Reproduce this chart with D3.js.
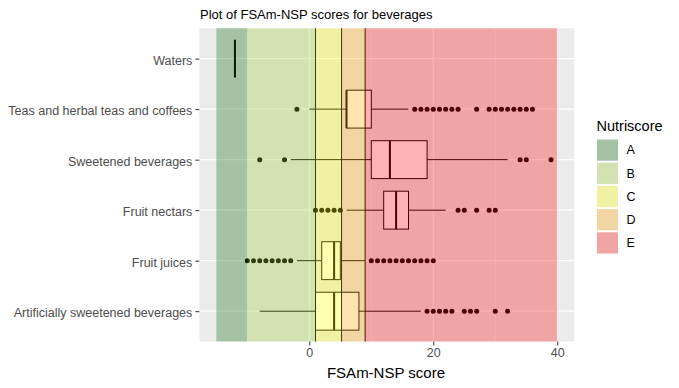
<!DOCTYPE html>
<html>
<head>
<meta charset="utf-8">
<script src="https://cdn.jsdelivr.net/npm/d3@7"></script>
<style>
body { margin: 0; background: #fff; }
text { font-family: "Liberation Sans", Arial, sans-serif; }
</style>
</head>
<body>
<svg id="chart" width="679" height="388"></svg>
<script>
// categories, top to bottom
var categories = ["Waters", "Teas and herbal teas and coffees", "Sweetened beverages",
                  "Fruit nectars", "Fruit juices", "Artificially sweetened beverages"];

// box stats per category: [lower whisker, q1, median, q3, upper whisker]
var boxStats = [
    [-12, -12, -12, -12, -12],
    [0, 6, 6, 10, 16],
    [-3, 10, 13, 19, 32],
    [6, 12, 14, 16, 22],
    [-2, 2, 4, 5, 9],
    [-8, 1, 4, 8, 18]
];

// outliers per category
var outliers = [
    [],
    [-2, 17, 18, 19, 20, 21, 22, 23, 24, 27, 29, 30, 31, 32, 33, 34, 35, 36],
    [-8, -4, 34, 35, 39],
    [1, 2, 3, 4, 5, 24, 25, 27, 29, 30],
    [-10, -9, -8, -7, -6, -5, -4, -3, 10, 11, 12, 13, 14, 15, 16, 17, 18, 19, 20],
    [19, 20, 21, 22, 23, 25, 26, 27, 30, 32]
];

// nutriscore bands
var grades = ["A", "B", "C", "D", "E"];
var bandStart = [-15, -10, 1, 5.2, 9];
var bandEnd = [-10, 1, 5.2, 9, 40];
var gradeColors = ["darkgreen", "yellowgreen", "yellow", "orange", "red"];
var cutLines = [1, 5.2, 9];

var xTicks = [0, 20, 40];
var xMinor = [-10, 10, 30];

var svg = d3.select("#chart");
var panel = {left: 199.3, right: 574.3, top: 28.3, bottom: 341.5};

var x = d3.scaleLinear().domain([-17.75, 42.75]).range([panel.left, panel.right]);
var y = d3.scalePoint().domain(categories).range([panel.top, panel.bottom]).padding(0.6);
var boxH = y.step() * 0.75;

svg.append("rect")
    .attr("x", panel.left).attr("y", panel.top)
    .attr("width", panel.right - panel.left).attr("height", panel.bottom - panel.top)
    .attr("fill", "#EBEBEB");

// grid
svg.selectAll(".minor").data(xMinor).enter().append("line")
    .attr("x1", d => x(d)).attr("x2", d => x(d))
    .attr("y1", panel.top).attr("y2", panel.bottom)
    .attr("stroke", "#fff").attr("stroke-width", 0.6);
svg.selectAll(".major").data(xTicks).enter().append("line")
    .attr("x1", d => x(d)).attr("x2", d => x(d))
    .attr("y1", panel.top).attr("y2", panel.bottom)
    .attr("stroke", "#fff").attr("stroke-width", 1.2);
svg.selectAll(".hgrid").data(categories).enter().append("line")
    .attr("x1", panel.left).attr("x2", panel.right)
    .attr("y1", d => y(d)).attr("y2", d => y(d))
    .attr("stroke", "#fff").attr("stroke-width", 1.2);

// boxplots
var box = svg.selectAll(".box").data(categories).enter().append("g");
box.append("line")
    .attr("x1", (d, i) => x(boxStats[i][0])).attr("x2", (d, i) => x(boxStats[i][1]))
    .attr("y1", d => y(d)).attr("y2", d => y(d))
    .attr("stroke", "#000").attr("stroke-width", 1);
box.append("line")
    .attr("x1", (d, i) => x(boxStats[i][3])).attr("x2", (d, i) => x(boxStats[i][4]))
    .attr("y1", d => y(d)).attr("y2", d => y(d))
    .attr("stroke", "#000").attr("stroke-width", 1);
box.append("rect")
    .attr("x", (d, i) => x(boxStats[i][1]))
    .attr("width", (d, i) => x(boxStats[i][3]) - x(boxStats[i][1]))
    .attr("y", d => y(d) - boxH / 2).attr("height", boxH)
    .attr("fill", "#fff").attr("stroke", "#000").attr("stroke-width", 1);
box.append("line")
    .attr("x1", (d, i) => x(boxStats[i][2])).attr("x2", (d, i) => x(boxStats[i][2]))
    .attr("y1", d => y(d) - boxH / 2).attr("y2", d => y(d) + boxH / 2)
    .attr("stroke", "#000").attr("stroke-width", 2);

categories.forEach(function(c, i) {
    svg.selectAll(null).data(outliers[i]).enter().append("circle")
        .attr("cx", d => x(d)).attr("cy", y(c)).attr("r", 2.5)
        .attr("fill", "#000");
});

svg.selectAll(".cut").data(cutLines).enter().append("line")
    .attr("x1", d => x(d)).attr("x2", d => x(d))
    .attr("y1", panel.top).attr("y2", panel.bottom)
    .attr("stroke", "#000").attr("stroke-width", 1);

// bands on top, semi transparent
svg.selectAll(".band").data(grades).enter().append("rect")
    .attr("x", (d, i) => x(bandStart[i]))
    .attr("width", (d, i) => x(bandEnd[i]) - x(bandStart[i]))
    .attr("y", panel.top).attr("height", panel.bottom - panel.top)
    .attr("fill", (d, i) => gradeColors[i]).attr("fill-opacity", 0.3);

// axes
var xAxis = svg.append("g").attr("transform", "translate(0," + panel.bottom + ")")
    .call(d3.axisBottom(x).tickValues(xTicks).tickSize(4).tickPadding(3));
var yAxis = svg.append("g").attr("transform", "translate(" + panel.left + ",0)")
    .call(d3.axisLeft(y).tickSize(4).tickPadding(3));
[xAxis, yAxis].forEach(function(a) {
    a.select(".domain").remove();
    a.selectAll(".tick line").attr("stroke", "#333");
    a.selectAll(".tick text").attr("fill", "#4D4D4D").style("font-size", "12.5px");
});
yAxis.selectAll(".tick text").attr("dy", "0.45em");

svg.append("text").attr("x", 386).attr("y", 378)
    .attr("text-anchor", "middle").style("font-size", "15px").attr("fill", "#000")
    .text("FSAm-NSP score");

svg.append("text").attr("x", 200).attr("y", 19)
    .style("font-size", "13px").attr("fill", "#000")
    .text("Plot of FSAm-NSP scores for beverages");

// legend
var legend = svg.append("g").attr("transform", "translate(596.5,0)");
legend.append("text").attr("x", 0).attr("y", 131)
    .style("font-size", "14.5px").attr("fill", "#000").text("Nutriscore");
var key = legend.selectAll(".key").data(grades).enter().append("g")
    .attr("transform", (d, i) => "translate(0," + (139 + i * 23.2) + ")");
key.append("rect").attr("width", 22).attr("height", 22.2).attr("fill", "#EBEBEB")
    .attr("stroke", "#fff").attr("stroke-width", 1);
key.append("rect").attr("x", 0.5).attr("y", 0.5).attr("width", 21).attr("height", 21.2)
    .attr("fill", (d, i) => gradeColors[i]).attr("fill-opacity", 0.3);
key.append("text").attr("x", 30).attr("y", 11.1).attr("dy", "0.35em")
    .style("font-size", "12.5px").attr("fill", "#000").text(d => d);
</script>
</body>
</html>
